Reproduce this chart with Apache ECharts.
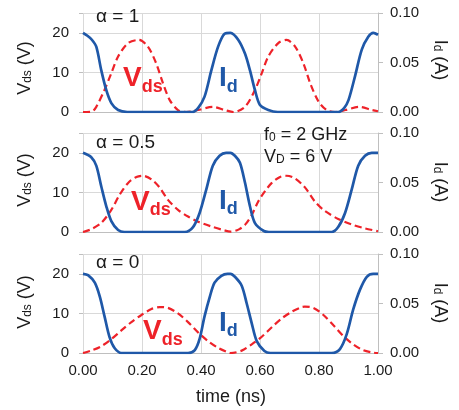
<!DOCTYPE html>
<html>
<head>
<meta charset="utf-8">
<script src="https://cdn.jsdelivr.net/npm/echarts@6/dist/echarts.min.js"></script>
<style>html,body{margin:0;padding:0;background:#fff}#c{width:459px;height:410px}</style>
</head>
<body>
<div id="c"></div>
<script>
// ---- data (time in ns, Vds in V, Id in A) ----
var alphaLabels = ['α = 1', 'α = 0.5', 'α = 0'];
var xTicks = [0, 0.2, 0.4, 0.6, 0.8, 1.0];

var tVds1 = [0, 0.03, 0.045, 0.073, 0.096, 0.119, 0.153, 0.19, 0.22, 0.248, 0.271, 0.294, 0.322, 0.35, 0.39, 0.44, 0.48, 0.51, 0.549, 0.583, 0.606, 0.628, 0.662, 0.69, 0.719, 0.747, 0.77, 0.798, 0.826, 0.855, 0.89, 0.935, 0.98, 1.0];
var vds1  = [0, 0.1, 1.3, 5.6, 9.8, 14, 17.4, 18.2, 16.5, 12.3, 7.3, 3, 0.5, 0, 0.5, 1.3, 0.5, 0, 1.3, 5.6, 9.8, 14, 17.4, 18.2, 16.5, 12.3, 7.3, 2.7, 0.5, 0, 0.5, 1.3, 0.5, 0.2];
var tId1  = [0, 0.015, 0.03, 0.045, 0.062, 0.079, 0.096, 0.119, 0.15, 0.37, 0.39, 0.412, 0.435, 0.458, 0.48, 0.5, 0.526, 0.549, 0.566, 0.583, 0.6, 0.628, 0.66, 0.865, 0.885, 0.9, 0.922, 0.945, 0.967, 0.984, 1.0];
var id1   = [0.080, 0.077, 0.073, 0.066, 0.042, 0.022, 0.009, 0.002, 0, 0, 0.004, 0.0155, 0.042, 0.066, 0.079, 0.080, 0.073, 0.059, 0.042, 0.022, 0.007, 0.002, 0, 0, 0.004, 0.012, 0.036, 0.063, 0.076, 0.080, 0.078];

var tVds2 = [0, 0.028, 0.062, 0.096, 0.124, 0.153, 0.181, 0.203, 0.232, 0.26, 0.288, 0.322, 0.356, 0.39, 0.435, 0.48, 0.5, 0.527, 0.549, 0.572, 0.594, 0.617, 0.64, 0.668, 0.69, 0.719, 0.753, 0.786, 0.82, 0.865, 0.911, 0.956, 1.0];
var vds2  = [0, 0.7, 2.3, 5.6, 9.4, 12.4, 13.9, 14.2, 13.3, 11.2, 8.1, 5.6, 3.9, 2.6, 1.4, 0.4, 0.1, 0.6, 1.8, 4.3, 7.7, 10.3, 12.4, 13.9, 14.2, 13.5, 11.2, 7.7, 5.3, 3.3, 1.9, 0.9, 0.2];
var tId2  = [0, 0.028, 0.045, 0.062, 0.079, 0.096, 0.119, 0.14, 0.345, 0.373, 0.395, 0.418, 0.44, 0.463, 0.485, 0.5, 0.515, 0.532, 0.549, 0.566, 0.583, 0.613, 0.63, 0.843, 0.865, 0.888, 0.911, 0.933, 0.956, 0.979, 1.0];
var id2   = [0.080, 0.0756, 0.067, 0.046, 0.026, 0.011, 0.002, 0, 0, 0.005, 0.019, 0.043, 0.067, 0.077, 0.080, 0.080, 0.077, 0.070, 0.050, 0.026, 0.009, 0.001, 0, 0, 0.005, 0.019, 0.043, 0.067, 0.077, 0.080, 0.080];

var tVds3 = [0, 0.028, 0.062, 0.096, 0.13, 0.164, 0.198, 0.232, 0.26, 0.288, 0.322, 0.356, 0.39, 0.424, 0.458, 0.49, 0.5, 0.538, 0.572, 0.606, 0.64, 0.673, 0.707, 0.741, 0.752, 0.781, 0.815, 0.849, 0.882, 0.916, 0.95, 0.984, 1.0];
var vds3  = [0, 0.6, 1.7, 3.5, 5.7, 7.8, 9.6, 11.1, 11.6, 11.4, 10, 7.8, 5.2, 3, 1.3, 0.2, 0, 0.6, 2.2, 4.1, 6.5, 8.7, 10.4, 11.6, 11.7, 11.4, 9.6, 7, 4.3, 2.2, 0.7, 0.1, 0];
var tId3  = [0, 0.017, 0.04, 0.057, 0.073, 0.09, 0.107, 0.13, 0.356, 0.379, 0.395, 0.412, 0.43, 0.446, 0.469, 0.49, 0.5, 0.515, 0.538, 0.555, 0.572, 0.589, 0.615, 0.635, 0.843, 0.871, 0.894, 0.916, 0.939, 0.962, 0.984, 1.0];
var id3   = [0.080, 0.0786, 0.071, 0.057, 0.037, 0.016, 0.005, 0, 0, 0.003, 0.014, 0.037, 0.057, 0.071, 0.078, 0.080, 0.080, 0.077, 0.068, 0.050, 0.030, 0.012, 0.002, 0, 0, 0.004, 0.019, 0.044, 0.064, 0.077, 0.080, 0.080];

// ---- build chart ----
var FONT = 'Liberation Sans, Arial, sans-serif';
var BLUE = '#1f58a8', RED = '#ee2229', GRID = '#d9d9d9', AX = '#bfbfbf', TXT = '#1a1a1a';
function zip(t, v) { return t.map(function (x, i) { return [x, v[i]]; }); }
var vdsSets = [[tVds1, vds1], [tVds2, vds2], [tVds3, vds3]];
var idSets = [[tId1, id1], [tId2, id2], [tId3, id3]];
var tops = [13, 133, 254];
var grids = [], xAxes = [], yAxes = [], series = [];
for (var i = 0; i < 3; i++) {
  grids.push({ left: 83, right: 81, top: tops[i], height: 99, containLabel: false });
  xAxes.push({
    type: 'value', gridIndex: i, min: 0, max: 1, interval: 0.2,
    axisLine: { show: true, lineStyle: { color: AX, width: 1 } },
    axisTick: { show: false },
    splitLine: { show: true, lineStyle: { color: GRID, width: 1 } },
    axisLabel: { show: i === 2, fontSize: 15, color: TXT, fontFamily: FONT, margin: 10,
      formatter: function (v) { return v.toFixed(2); } }
  });
  yAxes.push({
    type: 'value', gridIndex: i, position: 'left', min: 0, max: 25, interval: 10,
    axisLine: { show: false },
    axisTick: { show: true, length: 4, lineStyle: { color: AX } },
    splitLine: { show: true, lineStyle: { color: GRID, width: 1 } },
    axisLabel: { fontSize: 15, color: TXT, fontFamily: FONT, margin: 14,
      formatter: function (v) { return v > 20 ? '' : String(v); } }
  });
  yAxes.push({
    type: 'value', gridIndex: i, position: 'right', min: 0, max: 0.1, interval: 0.05,
    axisLine: { show: true, lineStyle: { color: AX, width: 1 } },
    axisTick: { show: true, length: 5, lineStyle: { color: AX } },
    splitLine: { show: false },
    axisLabel: { fontSize: 15, color: TXT, fontFamily: FONT, margin: 12,
      formatter: function (v) { return v.toFixed(2); } }
  });
  series.push({
    type: 'line', xAxisIndex: i, yAxisIndex: 2 * i, data: zip(vdsSets[i][0], vdsSets[i][1]),
    showSymbol: false, smooth: 0.3, z: 2,
    lineStyle: { color: RED, width: 2.2, type: [7, 4] }
  });
  series.push({
    type: 'line', xAxisIndex: i, yAxisIndex: 2 * i + 1, data: zip(idSets[i][0], idSets[i][1]),
    showSymbol: false, smooth: 0.3, z: 3,
    lineStyle: { color: BLUE, width: 2.7 }
  });
}

function txt(x, y, text, opt) {
  opt = opt || {};
  return {
    type: 'text', x: x, y: y, rotation: opt.rotation || 0, z: 10,
    style: {
      text: text, fill: opt.fill || TXT, font: (opt.weight || 'normal') + ' ' + (opt.size || 17) + 'px ' + FONT,
      fontSize: opt.size || 17, fontFamily: FONT, fontWeight: opt.weight || 'normal',
      align: opt.align || 'left', verticalAlign: 'middle',
      textAlign: opt.align || 'left', textVerticalAlign: 'middle',
      rich: opt.rich
    }
  };
}
var graphics = [];
var alphaY = [17, 143, 263];
for (var k = 0; k < 3; k++) graphics.push(txt(96, alphaY[k], alphaLabels[k], { size: 19 }));

function bigRich(color) {
  return {
    v: { fontSize: 28, fontWeight: 'bold', fill: color, color: color, fontFamily: FONT },
    s: { fontSize: 18, fontWeight: 'bold', fill: color, color: color, fontFamily: FONT, padding: [17, 0, 0, 0] }
  };
}
var vdsLbl = [[123, 78.5], [131, 202], [143, 331.5]];
var idLbl = [[219, 78.5], [219, 201], [219, 323]];
for (k = 0; k < 3; k++) {
  graphics.push(txt(vdsLbl[k][0], vdsLbl[k][1], '{v|V}{s|ds}', { rich: bigRich(RED), fill: RED }));
  graphics.push(txt(idLbl[k][0], idLbl[k][1], '{v|I}{s|d}', { rich: bigRich(BLUE), fill: BLUE }));
}
// axis titles
var axRich = {
  n: { fontSize: 18, fill: TXT, color: TXT, fontFamily: FONT },
  s: { fontSize: 12, fill: TXT, color: TXT, fontFamily: FONT, padding: [6, 0, 0, 0] }
};
var leftY = [68, 180, 302], rightY = [60, 182, 303];
for (k = 0; k < 3; k++) {
  graphics.push(txt(25, leftY[k], '{n|V}{s|ds}{n| (V)}', { rich: axRich, align: 'center', rotation: Math.PI / 2 }));
  graphics.push(txt(440, rightY[k], '{n|I}{s|d}{n| (A)}', { rich: axRich, align: 'center', rotation: -Math.PI / 2 }));
}
graphics.push(txt(231, 397, 'time (ns)', { size: 18, align: 'center' }));
graphics.push(txt(264, 135, '{n|f}{s|0}{n| = 2 GHz}', { rich: axRich }));
graphics.push(txt(264, 157, '{n|V}{s|D}{n| = 6 V}', { rich: axRich }));

var chart = echarts.init(document.getElementById('c'), null, { renderer: 'canvas' });
chart.setOption({
  animation: false,
  backgroundColor: '#fff',
  textStyle: { fontFamily: FONT },
  grid: grids, xAxis: xAxes, yAxis: yAxes, series: series,
  graphic: graphics
});
</script>
</body>
</html>
